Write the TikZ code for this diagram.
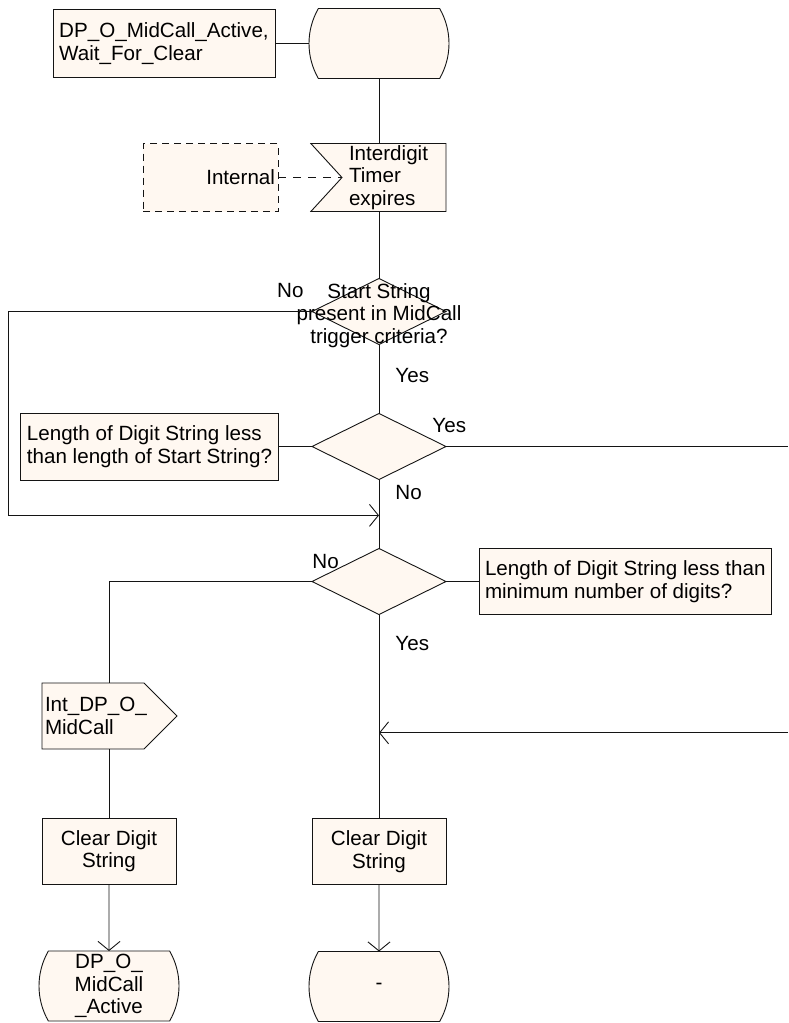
\documentclass[tikz,border=0pt]{standalone}
\usepackage{fontspec}
\setmainfont{Liberation Sans}
\usetikzlibrary{arrows.meta, positioning, shapes.geometric, shapes.misc, shapes.symbols, calc}
\definecolor{sdlFill}{RGB}{255,248,241}
\definecolor{sdlLine}{RGB}{20,20,20}
\newcommand{\sdlfont}{\fontsize{20.6}{22.5}\selectfont}
\tikzset{
    sdlshape/.style={
        draw=sdlLine,
        fill=sdlFill,
        line width=0.9pt,
        outer sep=0pt,
        font=\sdlfont
    },
    statebox/.style={
        sdlshape,
        rounded rectangle,
        rounded rectangle arc length=60,
        minimum width=136pt,
        minimum height=70pt,
        inner sep=1pt,
        align=center
    },
    inputbox/.style={
        sdlshape,
        signal,
        signal from=west,
        signal to=nowhere,
        signal pointer angle=95,
        text width=90pt,
        inner xsep=7pt,
        inner ysep=1pt,
        minimum height=68pt,
        align=left
    },
    outputbox/.style={
        sdlshape,
        signal,
        signal to=east,
        signal from=nowhere,
        text width=96pt,
        inner xsep=3pt,
        inner ysep=1pt,
        minimum height=66pt,
        align=left
    },
    taskbox/.style={
        sdlshape,
        rectangle,
        minimum width=134pt,
        minimum height=66pt,
        align=center
    },
    decision/.style={
        sdlshape,
        diamond,
        minimum width=134pt,
        minimum height=66pt,
        inner sep=0pt
    },
    notebox/.style={
        sdlshape,
        rectangle,
        align=left,
        minimum height=67pt,
        inner xsep=6pt
    },
    envbox/.style={notebox, dash pattern=on 7pt off 5pt},
    lbl/.style={font=\sdlfont, inner sep=0pt},
    flowline/.style={draw=sdlLine, line width=0.9pt},
    flowarrow/.style={flowline, -{Straight Barb[length=9pt, width=22pt, line width=0.9pt]}}
}

\begin{document}
\begin{tikzpicture}[x=1pt, y=-1pt]
        \useasboundingbox (0,0) rectangle (788,1023);
        \coordinate (rightedge) at (788,0);

        % main column
        \node[statebox] (start) at (379,43.5) {};
        \node[notebox, left=34pt of start, minimum width=222pt, minimum height=68pt] (startnote) {DP\_O\_MidCall\_Active,\\Wait\_For\_Clear};
        \node[inputbox, below=65pt of start, xshift=15pt] (timer) {Interdigit\\Timer\\expires};
        \node[envbox, left=64pt of timer, minimum width=135pt, minimum height=68pt, text width=129pt, inner xsep=3pt, align=right] (internal) {Internal};
        \coordinate (timerfoot) at (timer.south -| start);
        \node[decision, below=67pt of timerfoot] (q1) {};
        \node[lbl, align=center] (q1text) at ([yshift=-4pt]q1.center) {Start String\\present in MidCall\\trigger criteria?};
        \node[decision, below=69pt of q1] (q2) {};
        \node[notebox, left=34pt of q2, minimum width=257pt] (q2note) {Length of Digit String less\\than length of Start String?};
        \node[decision, below=69pt of q2] (q3) {};
        \node[notebox, right=33pt of q3, minimum width=291pt, minimum height=66pt] (q3note) {Length of Digit String less than\\minimum number of digits?};
        \node[taskbox, below=204pt of q3] (clear2) {Clear Digit\\String};
        \node[statebox, below=67pt of clear2] (stop2) {-};

        % left branch
        \node[outputbox, anchor=west] (sig) at (42,716) {Int\_DP\_O\_\\MidCall};
        \node[taskbox] (clear1) at (109,851) {Clear Digit\\String};
        \node[statebox, below=67pt of clear1] (stop1) {DP\_O\_\\MidCall\\\_Active};

        \coordinate (loopin) at ($(q2.south)!0.52!(q3.north)$);
        \coordinate (retin) at ($(q3.south)!0.58!(clear2.north)$);

        \draw[flowline] (startnote) -- (start);
        \draw[flowline] (start) -- (start |- timer.north);
        \draw[flowline, dash pattern=on 8pt off 7pt] (internal) -- (timer.west);
        \draw[flowline] (timerfoot) -- (q1);
        \draw[flowarrow] (q1.west) -- node[lbl, pos=0, above left=13pt and 8pt] {No} ++(-304,0) |- (loopin);
        \draw[flowline] (q1) -- node[lbl, pos=0.45, right=16pt] {Yes} (q2);
        \draw[flowline] (q2.west) -- (q2note);
        \draw[flowline] (q2.east) -- node[lbl, pos=0, anchor=south west, xshift=-14pt, yshift=13pt] {Yes} (q2.east -| rightedge);
        \draw[flowline] (q2) -- node[lbl, pos=0.19, right=16pt] {No} (q3);
        \draw[flowline] (q3.east) -- (q3note);
        \draw[flowline] (q3.west) -| node[lbl, pos=0, anchor=south west, yshift=12pt] {No} (sig.north -| clear1);
        \draw[flowline] (q3) -- node[lbl, pos=0.14, right=16pt] {Yes} (clear2);
        \draw[flowarrow] (retin -| rightedge) -- (retin);
        \draw[flowline] (sig.south -| clear1) -- (clear1);
        \draw[flowarrow] (clear1) -- (stop1);
        \draw[flowarrow] (clear2) -- (stop2);
    \end{tikzpicture}
\end{document}
